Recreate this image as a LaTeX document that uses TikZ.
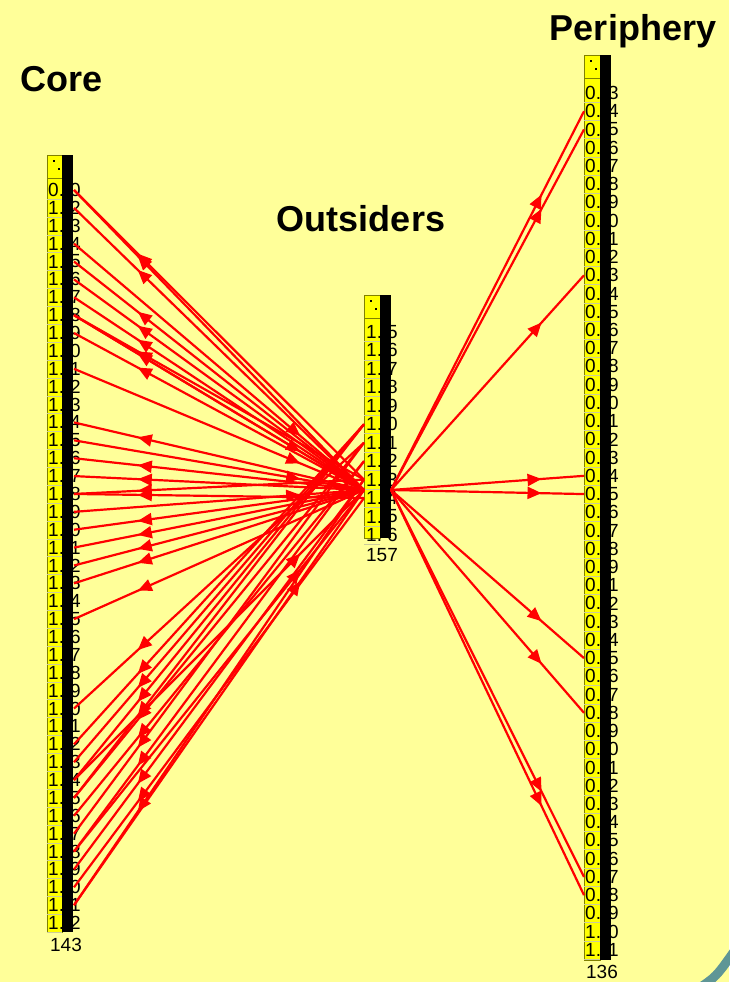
\documentclass[tikz,border=0pt]{standalone}
\usepackage{fontspec}
\setmainfont{Liberation Sans}
\usetikzlibrary{arrows.meta,decorations.markings}

\definecolor{fondo}{RGB}{255,255,153}
\definecolor{barra}{RGB}{255,255,0}
\definecolor{borde}{RGB}{128,128,0}
\definecolor{arco}{RGB}{95,150,150}

\tikzset{
	lazo/.style={draw=red, line width=2.2pt, postaction={decorate},
		decoration={markings, mark=at position 0.78 with {\arrow{Triangle[length=14pt,width=12pt]}}}},
	titulo/.style={font=\fontsize{36}{36}\selectfont\bfseries, anchor=base, inner sep=0pt},
	cifra/.style={font=\fontsize{19}{19}\selectfont, inner sep=0pt},
}

\begin{document}
\begin{tikzpicture}[x=1pt,y=-1pt]

\useasboundingbox (0,0) rectangle (729,982);
\fill[fondo] (0,0) rectangle (729,982);
\draw[arco, line width=9pt] (696,990) .. controls (716,977) .. (735,950);

\node[titulo] (tc) at (62,91) {Core};
\node[titulo] (to) at (361,231) {Outsiders};
\node[titulo] (tp) at (633,41) {Periphery};

% Columna Core
\filldraw[fill=barra, draw=borde, thin] (47,155) rectangle (62,932);
\draw[borde, thin] (47,178) -- (62,178);
\fill (53,160) rectangle (55,162);
\fill (58,168) rectangle (60,170);
	\foreach \d [count=\i from 0] in {0,2,3,4,5,6,7,8,9,0,1,2,3,4,5,6,7,8,9,0,1,2,3,4,5,6,7,8,9,0,1,2,3,4,5,6,7,8,9,0,1,2} {
		\draw[borde!40, very thin] (47,{190+17.88*\i+8.94}) -- (62,{190+17.88*\i+8.94});
		\node[cifra, anchor=west] (cl\i) at (48,{190+17.88*\i}) {\ifnum\i=0 0.\else 1.\fi};
		\node[cifra, anchor=east] (cr\i) at (81,{190+17.88*\i}) {\d};
		\coordinate (c\i) at (74,{190+17.88*\i});
	}
\fill (62,155) rectangle (73,932);
\node[cifra] (nc) at (66,945) {143};

% Columna Outsiders
\filldraw[fill=barra, draw=borde, thin] (364,295) rectangle (380,538);
\draw[borde, thin] (364,318) -- (380,318);
\fill (370,300) rectangle (372,302);
\fill (375,308) rectangle (377,310);
	\foreach \d [count=\i from 0] in {5,6,7,8,9,0,1,2,3,4,5,6} {
		\draw[borde!40, very thin] (364,{332+18.45*\i+9.2}) -- (380,{332+18.45*\i+9.2});
		\node[cifra, anchor=west] (ol\i) at (366,{332+18.45*\i}) {1.};
		\node[cifra, anchor=east] (or\i) at (398,{332+18.45*\i}) {\d};
		\coordinate (ow\i) at (364,{332+18.45*\i});
	}
\fill (380,295) rectangle (391,538);
\node[cifra] (no) at (382,555) {157};
\coordinate (hw) at (364,490);
\coordinate (he) at (391,490);

% Columna Periphery
\filldraw[fill=barra, draw=borde, thin] (584,55) rectangle (600,960);
\draw[borde, thin] (584,78) -- (600,78);
\fill (590,60) rectangle (592,62);
\fill (595,68) rectangle (597,70);
	\foreach \d [count=\i from 0] in {3,4,5,6,7,8,9,0,1,2,3,4,5,6,7,8,9,0,1,2,3,4,5,6,7,8,9,1,2,3,4,5,6,7,8,9,0,1,2,3,4,5,6,7,8,9,0,1} {
		\draw[borde!40, very thin] (584,{93+18.23*\i+9.1}) -- (600,{93+18.23*\i+9.1});
		\node[cifra, anchor=west] (pl\i) at (585,{93+18.23*\i}) {\ifnum\i<46 0.\else 1.\fi};
		\node[cifra, anchor=east] (pr\i) at (619,{93+18.23*\i}) {\d};
		\coordinate (p\i) at (584,{93+18.23*\i});
	}
\fill (600,55) rectangle (611,960);
\node[cifra] (np) at (602,972) {136};

% Lazos
	\foreach \a/\b in {hw/c0, ow8/c0, hw/c1, hw/c4, hw/c5, hw/c6, ow8/c7, hw/c7, hw/c8, hw/c13, hw/c15, hw/c16, ow8/c17, ow9/c17, hw/c19, hw/c20, hw/c21, hw/c22, hw/c24}
		\draw[lazo] (\a) -- (\b);

	\foreach \a/\b in {c3/hw, c7/hw, c10/hw, c14/hw, c18/hw, c33/hw, c37/hw, c40/hw}
		\draw[lazo] (\a) -- (\b);

	\foreach \a/\b in {ow6/c29, ow5/c31, ow5/c32, ow5/c33, ow5/c34, ow6/c34, ow7/c35, ow6/c36, ow7/c37, ow8/c38, ow9/c39, ow8/c40}
		\draw[lazo] (\a) -- (\b);

	\foreach \b in {1, 2, 10, 21, 22, 31, 34, 43, 44}
		\draw[lazo] (he) -- (p\b);

\end{tikzpicture}
\end{document}
